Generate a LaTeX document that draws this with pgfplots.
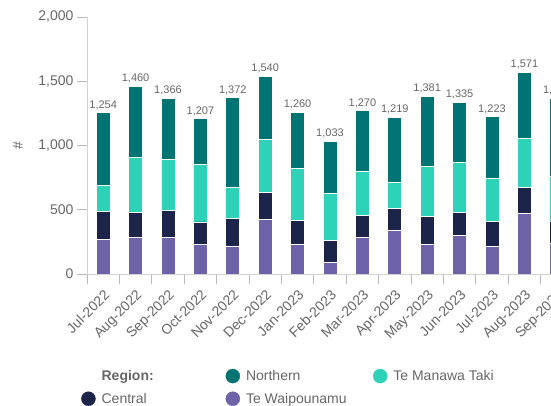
\documentclass[border=0pt]{standalone}
\usepackage{pgfplots}
\pgfplotsset{compat=1.18}
\usepackage{pgfplotstable}
\usepackage{fontspec}
\setmainfont{Liberation Sans}
\definecolor{cN}{RGB}{0,115,115}
\definecolor{cT}{RGB}{45,210,185}
\definecolor{cC}{RGB}{28,36,73}
\definecolor{cP}{RGB}{110,98,168}
\definecolor{txt}{RGB}{102,102,102}
\definecolor{axl}{RGB}{210,210,210}
\definecolor{tk}{RGB}{185,185,185}

\pgfplotstableread{
x  P   C   T   N   total
0  271 216 202 565 1254
1  282 197 426 555 1460
2  282 213 394 477 1366
3  229 176 445 357 1207
4  218 216 237 701 1372
5  426 206 413 495 1540
6  229 187 408 436 1260
7  92  171 361 409 1033
8  282 173 342 473 1270
9  337 171 208 503 1219
10 229 216 389 547 1381
11 300 182 386 467 1335
12 211 197 334 481 1223
13 468 203 387 513 1571
14 237 176 345 610 1368
}\data

\begin{document}
\begin{tikzpicture}
\begin{axis}[name=ax, scale only axis, width=486pt, height=257pt,
  ybar stacked, bar width=14pt,
  xmin=-0.5, xmax=14.5, ymin=0, ymax=2000,
  axis x line*=bottom, axis y line*=left,
  axis line style={axl, line width=0.8pt},
  xtick={0,...,14},
  xticklabels={Jul-2022,Aug-2022,Sep-2022,Oct-2022,Nov-2022,Dec-2022,Jan-2023,Feb-2023,Mar-2023,Apr-2023,May-2023,Jun-2023,Jul-2023,Aug-2023,Sep-2023},
  minor xtick={-0.5,0.5,...,14.5},
  major x tick style={draw=none},
  minor x tick style={draw=tk, line width=0.8pt},
  ytick={0,500,1000,1500,2000},
  y tick style={draw=tk, line width=0.8pt},
  tick align=outside, major tick length=10pt, minor tick length=10pt,
  /pgf/number format/1000 sep={,},
  /pgf/number format/assume math mode=true,
  ticklabel style={font=\fontsize{14}{16}\selectfont, text=txt},
  xticklabel style={rotate=45, anchor=north east},
  ylabel={\#}, ylabel style={font=\fontsize{14}{16}\selectfont, text=txt, yshift=9pt},
  legend columns=3,
  legend cell align=left,
  legend style={at={(axis description cs:-0.0123,-0.366)}, anchor=north west,
    draw=none, fill=none, font=\fontsize{14}{16}\selectfont, text=txt,
    inner sep=0pt, row sep=7pt},
]
\addlegendimage{empty legend}
\addlegendentry{\makebox[126pt][l]{\hspace{4pt}\textbf{Region:}}}
\addlegendimage{legend image code/.code={\fill[cN] (0pt,0pt) circle (7pt);}}
\addlegendentry{\makebox[129pt][l]{\hspace{4pt}Northern}}
\addlegendimage{legend image code/.code={\fill[cT] (0pt,0pt) circle (7pt);}}
\addlegendentry{\hspace{4pt}Te Manawa Taki}
\addlegendimage{legend image code/.code={\fill[cC] (0pt,0pt) circle (7pt);}}
\addlegendentry{\makebox[126pt][l]{\hspace{4pt}Central}}
\addlegendimage{legend image code/.code={\fill[cP] (0pt,0pt) circle (7pt);}}
\addlegendentry{\makebox[129pt][l]{\hspace{4pt}Te Waipounamu}}

\addplot[fill=cP, draw=white, line width=0.8pt] table[x=x, y=P]{\data};
\addplot[fill=cC, draw=white, line width=0.8pt] table[x=x, y=C]{\data};
\addplot[fill=cT, draw=white, line width=0.8pt] table[x=x, y=T]{\data};
\addplot[fill=cN, draw=white, line width=0.8pt] table[x=x, y=N]{\data};
\end{axis}
\begin{axis}[scale only axis, width=486pt, height=257pt,
  xmin=-0.5, xmax=14.5, ymin=0, ymax=2000, axis lines=none,
  clip=false,
  /pgf/number format/1000 sep={,},
  /pgf/number format/assume math mode=true,
  nodes near coords style={font=\fontsize{11}{13}\selectfont, text=txt, anchor=south, inner sep=3pt},
]
\addplot[only marks, mark=none, nodes near coords, point meta=y] table[x=x, y=total]{\data};
\end{axis}
\pgfresetboundingbox
\path ([shift={(-87pt,-132pt)}]ax.south west) rectangle ([shift={(464pt,274pt)}]ax.south west);
\end{tikzpicture}
\end{document}
